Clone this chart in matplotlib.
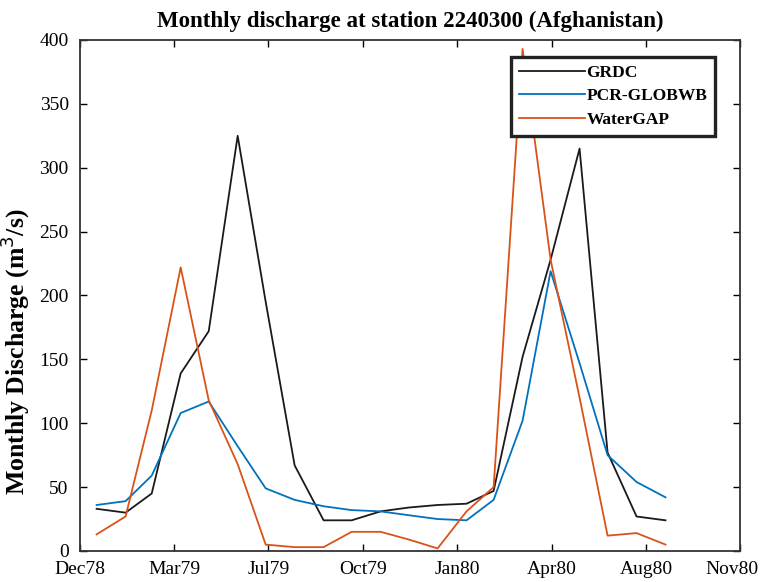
import matplotlib
matplotlib.use("Agg")
import matplotlib.pyplot as plt
import matplotlib.dates as mdates
import matplotlib.transforms as mtransforms
import numpy as np
import datetime as dt

# ---- data (monthly, Jan 1979 - Sep 1980) ----
months = [dt.date(1979 + (m // 12), m % 12 + 1, 1) for m in range(21)]
grdc = [33, 30, 45, 139, 172, 325, 195, 67, 24, 24, 31, 34,
        36, 37, 47, 152, 228, 315, 77, 27, 24]
pcr = [36, 39, 59, 108, 117, 82, 49, 40, 35, 32, 31, 28,
       25, 24, 40, 102, 219, 147, 75, 54, 42]
watergap = [13, 27, 110, 222, 118, 68, 5, 3, 3, 15, 15, 9,
            2, 31, 50, 393, 228, 120, 12, 14, 5]
tick_labels = ["Dec78", "Mar79", "Jul79", "Oct79", "Jan80", "Apr80", "Aug80", "Nov80"]
y_ticks = [0, 50, 100, 150, 200, 250, 300, 350, 400]

plt.rcParams['font.family'] = ['Liberation Serif', 'DejaVu Serif']

fig = plt.figure(figsize=(7.6, 5.82), dpi=100)
ax = fig.add_axes([0.105, 0.0533, 0.869, 0.878])

x = mdates.date2num(months)
ax.plot(x, grdc, color='#1a1a1a', lw=1.3, label='GRDC')
ax.plot(x, pcr, color='#0072BD', lw=1.3, label='PCR-GLOBWB')
ax.plot(x, watergap, color='#D95319', lw=1.3, label='WaterGAP')

x0 = mdates.date2num(dt.date(1978, 12, 14))
x1 = x0 + 707
ax.set_xlim(x0, x1)
ax.set_xticks(np.linspace(x0, x1, len(tick_labels)))
ax.set_xticklabels(tick_labels)
ax.set_ylim(0, 400)
ax.set_yticks(y_ticks)

ax.tick_params(direction='in', top=True, right=True, length=5, width=1,
               labelsize=14)
ax.tick_params(axis='x', pad=7)
ax.tick_params(axis='y', pad=8)
for s in ax.spines.values():
    s.set_linewidth(1.3)
    s.set_color('#333333')

# keep the last tick label inside the figure
last = ax.get_xticklabels()[-1]
last.set_transform(last.get_transform() +
                   mtransforms.ScaledTranslation(-8 / 100, 0, fig.dpi_scale_trans))

ax.set_title('Monthly discharge at station 2240300 (Afghanistan)',
             fontsize=16.5, fontweight='bold', pad=9)
ax.set_ylabel('Monthly Discharge (m$^3$/s)', fontsize=18.5, fontweight='bold')
ax.yaxis.set_label_coords(-0.072, 0.39)

leg = ax.legend(loc='upper right', bbox_to_anchor=(0.962, 0.967), borderaxespad=0,
                fancybox=False, framealpha=1, edgecolor='#222222',
                prop={'weight': 'bold', 'size': 12.5}, handlelength=3.8,
                handletextpad=0.1, labelspacing=0.42, borderpad=0.45)
leg.get_frame().set_linewidth(2.4)

fig.savefig('out.png', dpi=100)
